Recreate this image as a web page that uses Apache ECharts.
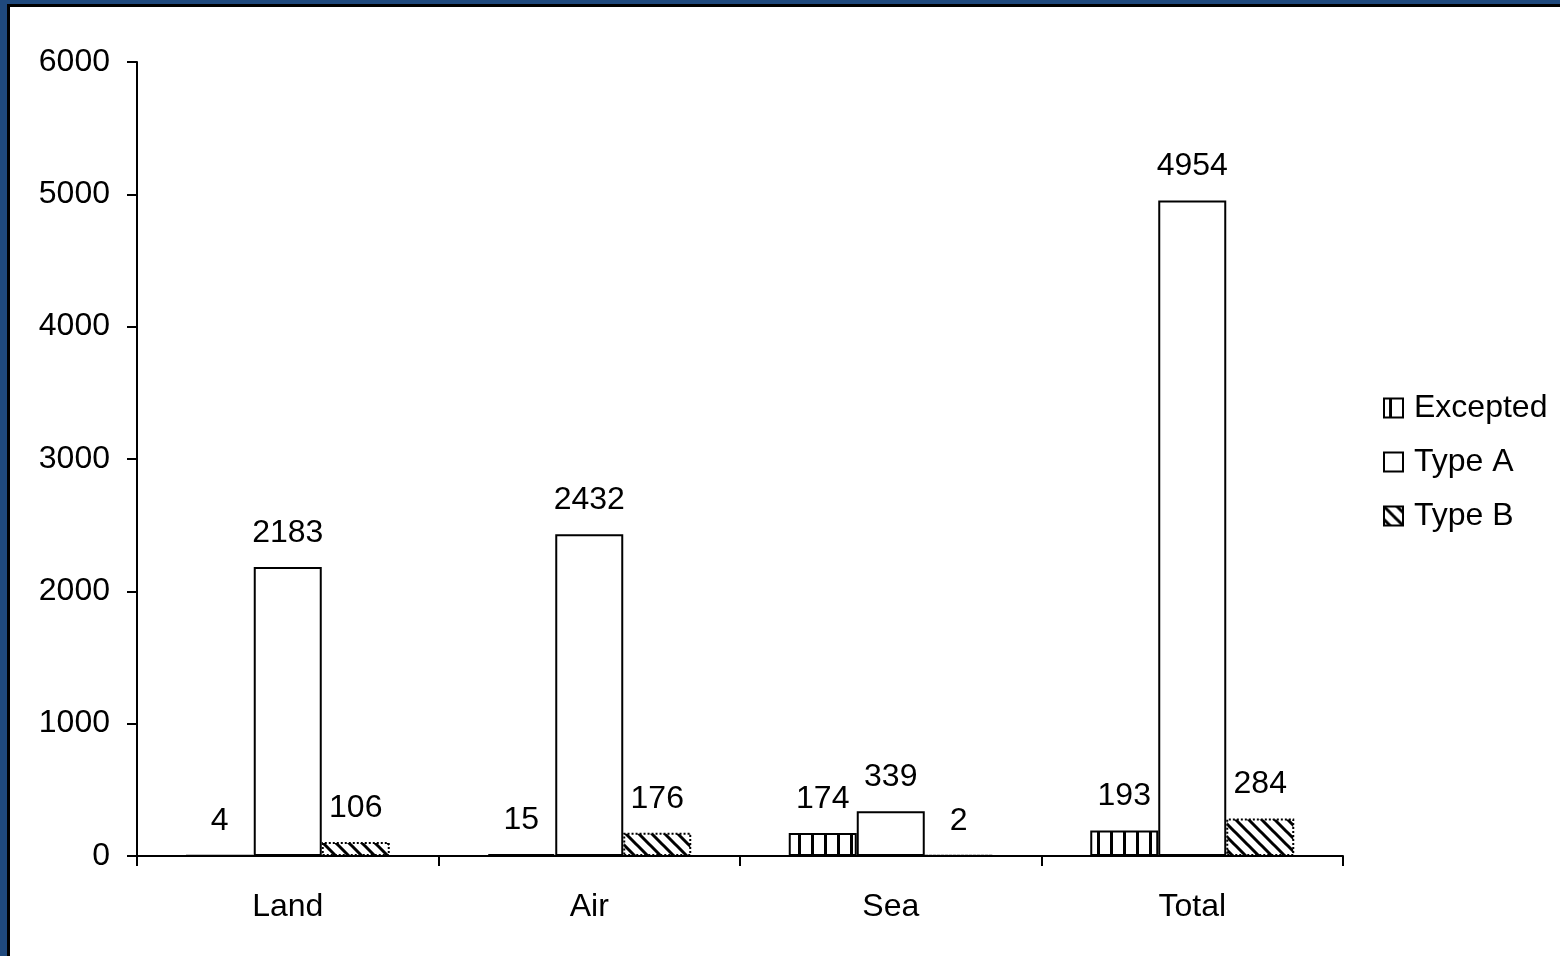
<!DOCTYPE html>
<html>
<head>
<meta charset="utf-8">
<style>
  html, body { margin: 0; padding: 0; background: #ffffff; }
  #chart { width: 1560px; height: 956px; }
</style>
<script src="https://cdn.jsdelivr.net/npm/echarts@6/dist/echarts.min.js"></script>
</head>
<body>
<div id="chart"></div>
<script>
// Shipments by transport mode and package type
const categories = ['Land', 'Air', 'Sea', 'Total'];
const seriesNames = ['Excepted', 'Type A', 'Type B'];
const excepted = [4, 15, 174, 193];
const typeA = [2183, 2432, 339, 4954];
const typeB = [106, 176, 2, 284];
const yTicks = { min: 0, max: 6000, interval: 1000 };

const FONT = '"Liberation Sans", Arial, sans-serif';
const FS = 32;

// Hatch fills drawn on small tiles and repeated across the bars
function verticalLines() {
  const c = document.createElement('canvas');
  c.width = 13; c.height = 13;
  const g = c.getContext('2d');
  g.fillStyle = '#ffffff'; g.fillRect(0, 0, 13, 13);
  g.fillStyle = '#000000'; g.fillRect(5, 0, 3, 13);
  return c;
}
function diagonalLines() {
  const s = 13;
  const c = document.createElement('canvas');
  c.width = s; c.height = s;
  const g = c.getContext('2d');
  g.fillStyle = '#ffffff'; g.fillRect(0, 0, s, s);
  g.strokeStyle = '#000000'; g.lineWidth = 3;
  g.beginPath();
  g.moveTo(-2, -2); g.lineTo(s + 2, s + 2);
  g.moveTo(-2, s - 2); g.lineTo(2, s + 2);
  g.moveTo(s - 2, -2); g.lineTo(s + 2, 2);
  g.stroke();
  return c;
}

const fills = [
  { image: verticalLines(), repeat: 'repeat' },
  '#ffffff',
  { image: diagonalLines(), repeat: 'repeat' }
];
const values = [excepted, typeA, typeB];

const chart = echarts.init(document.getElementById('chart'), null, { renderer: 'canvas' });

const series = seriesNames.map((name, i) => ({
  name: name,
  type: 'bar',
  data: values[i],
  barWidth: 68,
  barGap: '0%',
  itemStyle: {
    color: fills[i],
    borderColor: '#000000',
    borderWidth: 2,
    borderType: i === 2 ? 'dotted' : 'solid'
  },
  label: {
    show: true,
    position: 'top',
    distance: 18,
    color: '#000000',
    fontFamily: FONT,
    fontSize: FS
  },
  emphasis: { disabled: true }
}));

chart.setOption({
  animation: false,
  backgroundColor: '#ffffff',
  textStyle: { fontFamily: FONT },
  grid: { left: 137, right: 217, top: 62, bottom: 100, containLabel: false },
  graphic: [
    // frame along the top and left edges
    { type: 'rect', left: 0, top: 0, shape: { width: 1560, height: 7 }, style: { fill: '#000000' }, silent: true },
    { type: 'rect', left: 0, top: 0, shape: { width: 10, height: 956 }, style: { fill: '#000000' }, silent: true },
    { type: 'rect', left: 0, top: 0, shape: { width: 1560, height: 4 }, style: { fill: '#1f497d' }, silent: true },
    { type: 'rect', left: 0, top: 0, shape: { width: 7, height: 956 }, style: { fill: '#1f497d' }, silent: true }
  ],
  legend: {
    orient: 'vertical',
    left: 1378,
    top: 387,
    itemWidth: 19,
    itemHeight: 19,
    itemGap: 22,
    icon: 'rect',
    textStyle: { color: '#000000', fontSize: FS, fontFamily: FONT, padding: [0, 0, 0, 6] },
    data: seriesNames
  },
  xAxis: {
    type: 'category',
    data: categories,
    axisLine: { lineStyle: { color: '#000000', width: 2 } },
    axisTick: { show: true, length: 10, lineStyle: { color: '#000000', width: 2 } },
    axisLabel: { color: '#000000', fontSize: FS, fontFamily: FONT, margin: 35 },
    splitLine: { show: false }
  },
  yAxis: {
    type: 'value',
    min: yTicks.min,
    max: yTicks.max,
    interval: yTicks.interval,
    axisLine: { show: true, lineStyle: { color: '#000000', width: 2 } },
    axisTick: { show: true, length: 10, lineStyle: { color: '#000000', width: 2 } },
    axisLabel: { color: '#000000', fontSize: FS, fontFamily: FONT, margin: 27, formatter: (v) => String(v) },
    splitLine: { show: false }
  },
  series: series
});
</script>
</body>
</html>
